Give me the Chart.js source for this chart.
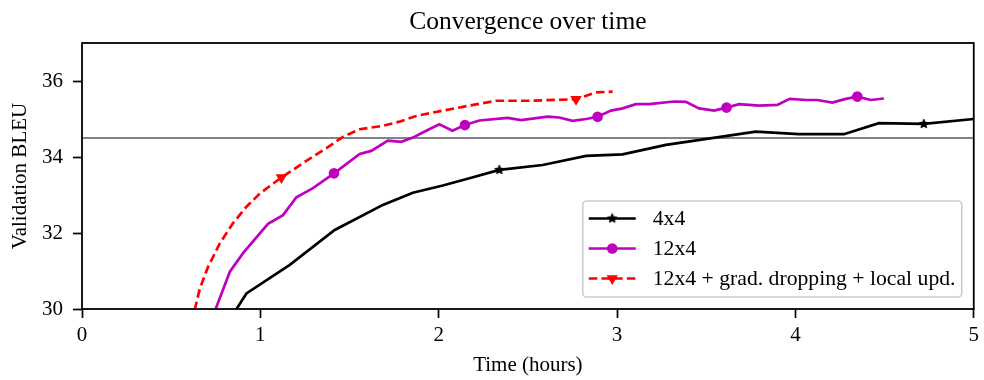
<!DOCTYPE html>
<html><head><meta charset="utf-8">
<script src="https://cdn.jsdelivr.net/npm/chart.js@4.4.1/dist/chart.umd.min.js"></script>
<style>html,body{margin:0;padding:0;background:#fff;}#wrap{width:984px;height:380px;}</style>
</head><body><div id="wrap"><canvas id="c" width="984" height="380"></canvas></div>
<script>
const chartTitle = 'Convergence over time';
const xTitle = 'Time (hours)';
const yTitle = 'Validation BLEU';
const xTicks = [0, 1, 2, 3, 4, 5];
const yTicks = [30, 32, 34, 36];
const seriesNames = ['4x4', '12x4', '12x4 + grad. dropping + local upd.'];

const time4x4 = [0.82, 0.922, 1.165, 1.417, 1.687, 1.855, 2.023, 2.172, 2.34, 2.583, 2.826, 3.031, 3.274, 3.778, 4.02, 4.272, 4.468, 4.72, 5.0];
const bleu4x4 = [29.66, 30.41, 31.16, 32.08, 32.74, 33.06, 33.25, 33.44, 33.66, 33.79, 34.03, 34.07, 34.32, 34.67, 34.6, 34.6, 34.89, 34.87, 35.0];
const marks4x4 = [8, 17];

const time12x4 = [0.725, 0.829, 0.903, 1.043, 1.127, 1.202, 1.295, 1.413, 1.557, 1.622, 1.715, 1.79, 1.855, 1.93, 2.004, 2.077, 2.147, 2.228, 2.387, 2.462, 2.611, 2.676, 2.751, 2.826, 2.891, 2.966, 3.031, 3.106, 3.18, 3.32, 3.386, 3.46, 3.544, 3.614, 3.684, 3.796, 3.899, 3.968, 4.058, 4.123, 4.207, 4.282, 4.347, 4.422, 4.496];
const bleu12x4 = [29.7, 30.98, 31.47, 32.24, 32.47, 32.94, 33.18, 33.57, 34.08, 34.16, 34.43, 34.4, 34.51, 34.69, 34.86, 34.69, 34.84, 34.96, 35.03, 34.97, 35.06, 35.04, 34.95, 35.0, 35.06, 35.22, 35.28, 35.39, 35.39, 35.46, 35.45, 35.28, 35.22, 35.3, 35.39, 35.35, 35.37, 35.53, 35.5, 35.5, 35.43, 35.53, 35.59, 35.5, 35.54];
const marks12x4 = [7, 16, 24, 33, 42];

const timeDrop = [0.615, 0.661, 0.707, 0.773, 0.847, 0.922, 0.997, 1.118, 1.258, 1.389, 1.463, 1.557, 1.687, 1.78, 1.874, 1.967, 2.135, 2.322, 2.508, 2.77, 2.882, 2.975];
const bleuDrop = [29.65, 30.54, 31.11, 31.73, 32.26, 32.69, 33.04, 33.46, 33.9, 34.29, 34.53, 34.73, 34.82, 34.93, 35.08, 35.17, 35.32, 35.48, 35.48, 35.52, 35.7, 35.72];
const marksDrop = [7, 19];

const referenceBleu = 34.5;
const xMin = 0, xMax = 5, yMin = 30, yMax = 37;

const FONT = '"Liberation Serif", "Times New Roman", serif';
Chart.defaults.font.family = FONT;
Chart.defaults.color = '#000';

function makeStar(r, color) {
  const size = Math.ceil(r * 2) + 2;
  const c = document.createElement('canvas');
  c.width = c.height = size;
  const g = c.getContext('2d');
  g.fillStyle = color; g.strokeStyle = color; g.lineWidth = 1;
  g.beginPath();
  for (let i = 0; i < 10; i++) {
    const rr = i % 2 ? r * 0.45 : r;
    const ang = -Math.PI / 2 + i * Math.PI / 5;
    const px = size / 2 + rr * Math.cos(ang), py = size / 2 + rr * Math.sin(ang);
    if (i) g.lineTo(px, py); else g.moveTo(px, py);
  }
  g.closePath(); g.fill(); g.stroke();
  return c;
}
const starImg = makeStar(4.8, '#000');

const zip = (xs, ys) => xs.map((x, i) => ({x, y: ys[i]}));
const markR = (list, r) => (ctx) => list.includes(ctx.dataIndex) ? r : 0;

const LW = 2.7;
const datasets = [
  {label: seriesNames[0], data: zip(time4x4, bleu4x4), borderColor: '#000', backgroundColor: '#000',
   borderWidth: LW, pointStyle: starImg, pointRadius: markR(marks4x4, 5), legendMarker: 'star'},
  {label: seriesNames[1], data: zip(time12x4, bleu12x4), borderColor: '#bf00bf', backgroundColor: '#bf00bf',
   borderWidth: LW, pointStyle: 'circle', pointRadius: markR(marks12x4, 5.3), pointBorderWidth: 0, legendMarker: 'circle'},
  {label: seriesNames[2], data: zip(timeDrop, bleuDrop), borderColor: '#ff0000', backgroundColor: '#ff0000',
   borderWidth: LW, borderDash: [8.5, 4.2], pointStyle: 'triangle', pointRotation: 180, pointRadius: markR(marksDrop, 6.6), pointBorderWidth: 0, legendMarker: 'tri'},
  {label: 'ref', data: [{x: xMin, y: referenceBleu}, {x: xMax, y: referenceBleu}], borderColor: '#5a5a5a',
   borderWidth: 1.3, pointRadius: 0, isRef: true}
];

const decor = {
  id: 'decor',
  afterDatasetsDraw(chart) {
    const {ctx, chartArea: a} = chart;
    ctx.save();
    ctx.strokeStyle = '#000'; ctx.lineWidth = 1.8;
    ctx.strokeRect(a.left, a.top, a.right - a.left, a.bottom - a.top);
    ctx.restore();
  },
  afterDraw(chart) {
    const {ctx, chartArea: a} = chart;
    ctx.save();
    ctx.fillStyle = '#000';
    ctx.font = '25.5px ' + FONT;
    ctx.textAlign = 'center'; ctx.textBaseline = 'alphabetic';
    ctx.fillText(chartTitle, (a.left + a.right) / 2, 29);
    const bw = 379, bh = 96;
    const bx = a.right - 12 - bw, by = a.bottom - 12 - bh;
    ctx.beginPath();
    ctx.roundRect(bx, by, bw, bh, 4);
    ctx.fillStyle = 'rgba(255,255,255,0.8)'; ctx.fill();
    ctx.strokeStyle = '#cccccc'; ctx.lineWidth = 1.6; ctx.stroke();
    const items = chart.data.datasets.filter(d => !d.isRef);
    items.forEach((d, i) => {
      const y = by + 17.5 + i * 30;
      const x0 = bx + 6, x1 = bx + 53, xm = (x0 + x1) / 2;
      ctx.strokeStyle = d.borderColor; ctx.lineWidth = d.borderWidth;
      ctx.setLineDash(d.borderDash || []);
      ctx.beginPath(); ctx.moveTo(x0, y); ctx.lineTo(x1, y); ctx.stroke();
      ctx.setLineDash([]);
      ctx.fillStyle = d.backgroundColor;
      if (d.legendMarker === 'circle') {
        ctx.beginPath(); ctx.arc(xm, y, 5.3, 0, Math.PI * 2); ctx.fill();
      } else if (d.legendMarker === 'tri') {
        const r = 6.6;
        ctx.beginPath();
        ctx.moveTo(xm, y + r); ctx.lineTo(xm - r * 0.866, y - r / 2); ctx.lineTo(xm + r * 0.866, y - r / 2);
        ctx.closePath(); ctx.fill();
      } else if (d.legendMarker === 'star') {
        ctx.drawImage(starImg, xm - starImg.width / 2, y - starImg.height / 2);
      }
      ctx.fillStyle = '#000';
      ctx.font = '21.7px ' + FONT;
      ctx.textAlign = 'left'; ctx.textBaseline = 'middle';
      ctx.fillText(d.label, bx + 70, y + 1);
    });
    ctx.restore();
  }
};

new Chart(document.getElementById('c'), {
  type: 'line',
  data: {datasets},
  options: {
    responsive: false,
    animation: false,
    events: [],
    devicePixelRatio: 1,
    layout: {padding: {top: 43, right: 9, left: 0, bottom: 0}},
    elements: {line: {tension: 0, fill: false}, point: {hoverRadius: 0}},
    plugins: {legend: {display: false}, tooltip: {enabled: false}, title: {display: false}},
    scales: {
      x: {
        type: 'linear', min: xMin, max: xMax,
        afterBuildTicks: s => { s.ticks = xTicks.map(v => ({value: v})); },
        afterFit: s => { s.height = 71; },
        ticks: {font: {size: 21}, color: '#000', padding: 5, maxRotation: 0, autoSkip: false},
        grid: {drawOnChartArea: false, drawTicks: true, tickLength: 9, tickWidth: 1.7, tickColor: '#000'},
        border: {display: false},
        title: {display: true, text: xTitle, font: {size: 21}, color: '#000', padding: {top: 0, bottom: 2.4}}
      },
      y: {
        type: 'linear', min: yMin, max: yMax,
        afterBuildTicks: s => { s.ticks = yTicks.map(v => ({value: v})); },
        afterFit: s => { s.width = 82; },
        ticks: {font: {size: 21}, color: '#000', padding: 10, autoSkip: false},
        grid: {drawOnChartArea: false, drawTicks: true, tickLength: 9, tickWidth: 1.7, tickColor: '#000'},
        border: {display: false},
        title: {display: true, text: yTitle, font: {size: 21}, color: '#000', padding: {top: 7.4, bottom: 0}}
      }
    }
  },
  plugins: [decor]
});
</script>
</body></html>
